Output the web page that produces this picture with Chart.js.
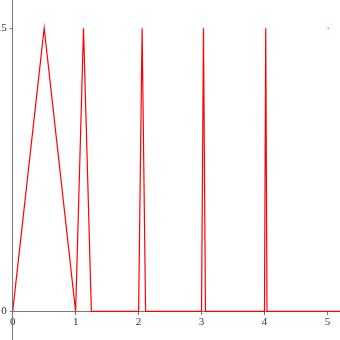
<!DOCTYPE html>
<html>
<head>
<meta charset="utf-8">
<script src="https://cdn.jsdelivr.net/npm/chart.js@4"></script>
<style>
html,body{margin:0;padding:0;background:#fff;}
#c{display:block;}
</style>
</head>
<body>
<canvas id="c" width="340" height="340"></canvas>
<script>
// Red polyline: successive triangular spikes (x, y)
const xValues = [0, 0.5, 1, 1.125, 1.25, 2, 2.056, 2.111, 3, 3.031, 3.0625, 4, 4.02, 4.04, 5.2];
const yValues = [0, 1.5, 0, 1.5,   0,    0, 1.5,   0,     0, 1.5,   0,      0, 1.5,  0,    0];
// isolated sample drawn near x = 5
const dotX = [5.014];
const dotY = [1.5];
const xTicks = [0, 1, 2, 3, 4, 5];
const yTicks = [0, 1.5];

const lineData = xValues.map((x, i) => ({x: x, y: yValues[i]}));
const dotData = dotX.map((x, i) => ({x: x, y: dotY[i]}));

const tickFont = {family: "'Liberation Serif', 'DejaVu Serif', serif", size: 11};
const noPad = (s) => { s.paddingTop = 0; s.paddingBottom = 0; s.paddingLeft = 0; s.paddingRight = 0; };

new Chart(document.getElementById('c'), {
  type: 'scatter',
  data: {
    datasets: [
      {
        data: lineData,
        showLine: true,
        borderColor: '#ff0000',
        borderWidth: 1.2,
        pointRadius: 0,
        fill: false,
        tension: 0
      },
      {
        data: dotData,
        showLine: false,
        pointRadius: 0.9,
        pointBorderWidth: 0,
        backgroundColor: 'rgba(255,60,60,0.7)'
      }
    ]
  },
  options: {
    responsive: false,
    animation: false,
    layout: {padding: 0, autoPadding: false},
    plugins: {legend: {display: false}, tooltip: {enabled: false}},
    scales: {
      x: {
        type: 'linear',
        position: {y: 0},
        min: 0,
        max: 5.2,
        afterBuildTicks: (s) => { s.ticks = xTicks.map(v => ({value: v})); },
        afterFit: noPad,
        grid: {drawOnChartArea: false, drawTicks: true, tickLength: 3, color: '#777'},
        border: {display: true, color: '#777', width: 1},
        ticks: {font: tickFont, color: '#333', padding: 1, maxRotation: 0, autoSkip: false}
      },
      y: {
        type: 'linear',
        position: 'left',
        min: -0.152,
        max: 1.65,
        afterBuildTicks: (s) => { s.ticks = yTicks.map(v => ({value: v})); },
        afterFit: (s) => { noPad(s); s.width = 12.7; },
        grid: {drawOnChartArea: false, drawTicks: true, tickLength: 3, color: '#777'},
        border: {display: true, color: '#777', width: 1},
        ticks: {font: tickFont, color: '#333', padding: 3, autoSkip: false}
      }
    }
  }
});
</script>
</body>
</html>
